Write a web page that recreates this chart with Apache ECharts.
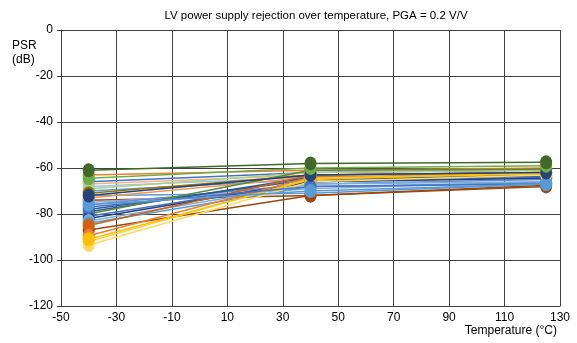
<!DOCTYPE html>
<html>
<head>
<meta charset="utf-8">
<script src="https://cdn.jsdelivr.net/npm/echarts@6/dist/echarts.min.js"></script>
<style>
    html, body { margin: 0; padding: 0; background: #fff; }
    #psr_chart { width: 577px; height: 343px; }
</style>
</head>
<body>
<div id="psr_chart"></div>
<script>
// temperatures (°C) where each unit was measured
var temps = [-40, 40, 125];

// PSR (dB) per unit, one value per temperature
var unit01 = [-74, -72, -67.5];
var unit02 = [-72, -71, -67];
var unit03 = [-63, -61, -60];
var unit04 = [-66, -62, -61];
var unit05 = [-67, -63, -62];
var unit06 = [-68, -64, -63];
var unit07 = [-70, -65, -63.5];
var unit08 = [-69, -62, -61];
var unit09 = [-71, -63, -62];
var unit10 = [-73, -64, -63];
var unit11 = [-75, -69, -66];
var unit12 = [-76, -67, -65];
var unit13 = [-87, -72, -68];
var unit14 = [-78, -65, -63.5];
var unit15 = [-79, -64, -63];
var unit16 = [-80, -61, -60.5];
var unit17 = [-81, -66, -64];
var unit18 = [-82, -66, -64.5];
var unit19 = [-83, -67, -66];
var unit20 = [-84, -68, -66.5];
var unit21 = [-85, -63, -62];
var unit22 = [-89.5, -64, -62.5];
var unit23 = [-92, -64.5, -62.5];
var unit24 = [-93.5, -66, -63];
var unit25 = [-91, -65, -62];
var unit26 = [-77, -68, -67];
var unit27 = [-76, -70, -67];
var unit28 = [-72, -63, -62];
var unit29 = [-64.5, -60, -59];
var unit30 = [-61, -58, -57.5];

var units = [unit01, unit02, unit03, unit04, unit05, unit06, unit07, unit08, unit09, unit10,
    unit11, unit12, unit13, unit14, unit15, unit16, unit17, unit18, unit19, unit20,
    unit21, unit22, unit23, unit24, unit25, unit26, unit27, unit28, unit29, unit30];

var unitColors = ['#9E480E', '#5B9BD5', '#ED7D31', '#4472C4', '#F4B183', '#9DC3E6', '#5B9BD5', '#A9D18E', '#997300', '#F1975A',
    '#8FAADC', '#698ED0', '#9E480E', '#335AA1', '#255E91', '#5A8A39', '#4472C4', '#264478', '#7CAFDD', '#5B9BD5',
    '#D26012', '#ED7D31', '#FFCD33', '#FFD966', '#FFC000', '#4472C4', '#5B9BD5', '#264478', '#70AD47', '#43682B'];

var xTicks = [-50, 130, 20];
var yTicks = [-120, 0, 20];

var font = 'Liberation Sans, Arial, sans-serif';
var psr_chart = echarts.init(document.getElementById('psr_chart'));

function getPsrOption() {
    var series = units.map(function (vals, i) {
        return {
            name: 'Unit ' + (i + 1),
            type: 'line',
            data: vals.map(function (v, j) { return [temps[j], v]; }),
            symbol: 'circle',
            symbolSize: [12, 14],
            showSymbol: true,
            lineStyle: { width: 1.5, color: unitColors[i] },
            itemStyle: { color: unitColors[i] },
            animation: false
        };
    });
    return {
        title: {
            text: 'LV power supply rejection over temperature, PGA = 0.2 V/V',
            left: 311,
            textAlign: 'center',
            top: 5,
            textStyle: {
                fontSize: 11.5,
                fontWeight: 'normal',
                color: '#000',
                fontFamily: font
            }
        },
        grid: {
            left: 61,
            right: 17,
            top: 30,
            bottom: 37
        },
        xAxis: {
            type: 'value',
            min: xTicks[0],
            max: xTicks[1],
            interval: xTicks[2],
            axisLine: { onZero: false, lineStyle: { color: '#404040', width: 1 } },
            axisTick: { show: false },
            axisLabel: {
                color: '#000',
                fontSize: 12,
                fontFamily: font,
                margin: 6
            },
            splitLine: { show: true, lineStyle: { color: '#404040', width: 1 } }
        },
        yAxis: {
            type: 'value',
            min: yTicks[0],
            max: yTicks[1],
            interval: yTicks[2],
            axisLine: { show: true, onZero: false, lineStyle: { color: '#404040', width: 1 } },
            axisTick: { show: true, length: 4, lineStyle: { color: '#404040' } },
            axisLabel: {
                color: '#000',
                fontSize: 12,
                fontFamily: font,
                margin: 8
            },
            splitLine: { show: true, lineStyle: { color: '#404040', width: 1 } }
        },
        graphic: [
            {
                type: 'text',
                left: 12,
                top: 39,
                style: {
                    text: 'PSR\n(dB)',
                    fontSize: 12,
                    lineHeight: 14,
                    fontFamily: font,
                    fill: '#000'
                }
            },
            {
                type: 'text',
                right: 20,
                top: 325,
                style: {
                    text: 'Temperature (°C)',
                    fontSize: 12,
                    fontFamily: font,
                    fill: '#000'
                }
            }
        ],
        series: series
    };
}

psr_chart.setOption(getPsrOption());
</script>
</body>
</html>
